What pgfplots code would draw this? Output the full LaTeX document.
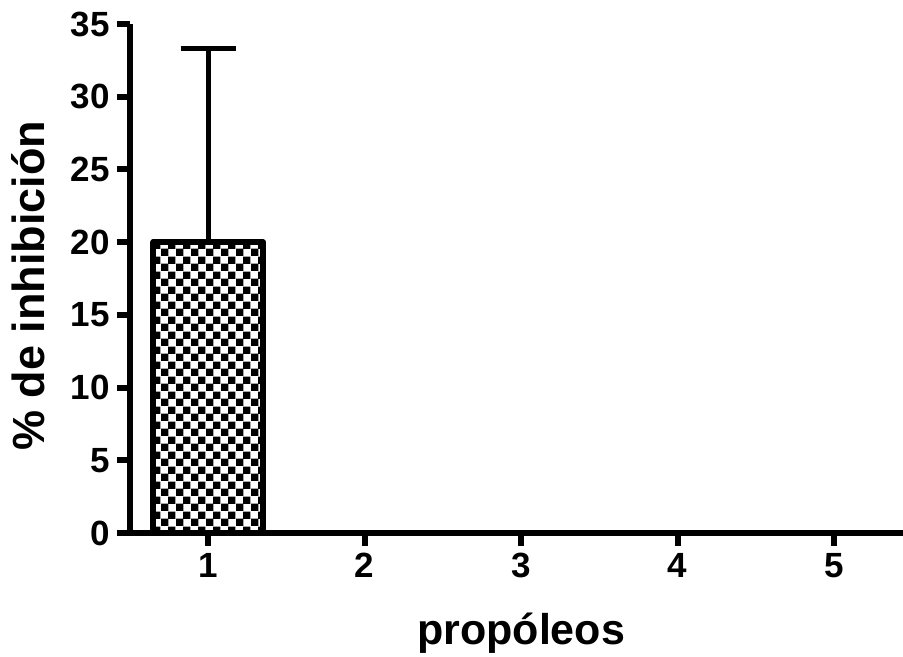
\documentclass[border=0pt]{standalone}
\usepackage{fontspec}
\setmainfont{Liberation Sans}
\usepackage{pgfplots}
\pgfplotsset{compat=1.18}
\usetikzlibrary{patterns}
\pgfdeclarepatternformonly{mycheck}{\pgfqpoint{0pt}{0pt}}{\pgfqpoint{7.3pt}{7.3pt}}{\pgfqpoint{7.3pt}{7.3pt}}{%
  \pgfpathrectangle{\pgfpointorigin}{\pgfqpoint{3.75pt}{3.75pt}}%
  \pgfpathrectangle{\pgfqpoint{3.65pt}{3.65pt}}{\pgfqpoint{3.75pt}{3.75pt}}%
  \pgfusepath{fill}}
\begin{document}
\begin{tikzpicture}
\useasboundingbox (-65pt,-62pt) rectangle (386.5pt,266.5pt);
\begin{axis}[
  scale only axis,
  width=386.5pt, height=254.5pt,
  xmin=0.5, xmax=5.44, ymin=0, ymax=35,
  axis x line*=bottom, axis y line*=left,
  axis line style={line width=3pt, -},
  xtick={1,2,3,4,5}, ytick={0,5,...,35},
  tick align=outside,
  major tick length=6.5pt,
  tick style={line width=3pt, black},
  /pgf/number format/assume math mode=true,
  tick label style={font=\fontsize{17.5}{21}\selectfont\bfseries},
  xlabel={propóleos},
  ylabel={\% de inhibición},
  label style={font=\fontsize{21.5}{26}\selectfont\bfseries},
  xlabel style={at={(axis description cs:0.506,-0.22)}, anchor=base},
  ylabel style={at={(axis description cs:-0.11,0.486)}, anchor=base, rotate=0, font=\fontsize{22.5}{26}\selectfont\bfseries},
  clip=false,
]
\addplot[ybar, bar width=0.7, draw=black, line width=3pt, line join=round,
  pattern=mycheck, pattern color=black,
  error bars/.cd, y dir=plus, y explicit,
  error bar style={line width=2.6pt, black},
  error mark options={line width=2.6pt, mark size=13.75pt, rotate=90}]
coordinates {
  (1,20) +- (0,13.3)
  (2,0) +- (0,0)
  (3,0) +- (0,0)
  (4,0) +- (0,0)
  (5,0) +- (0,0)
};
\end{axis}
\end{tikzpicture}
\end{document}
